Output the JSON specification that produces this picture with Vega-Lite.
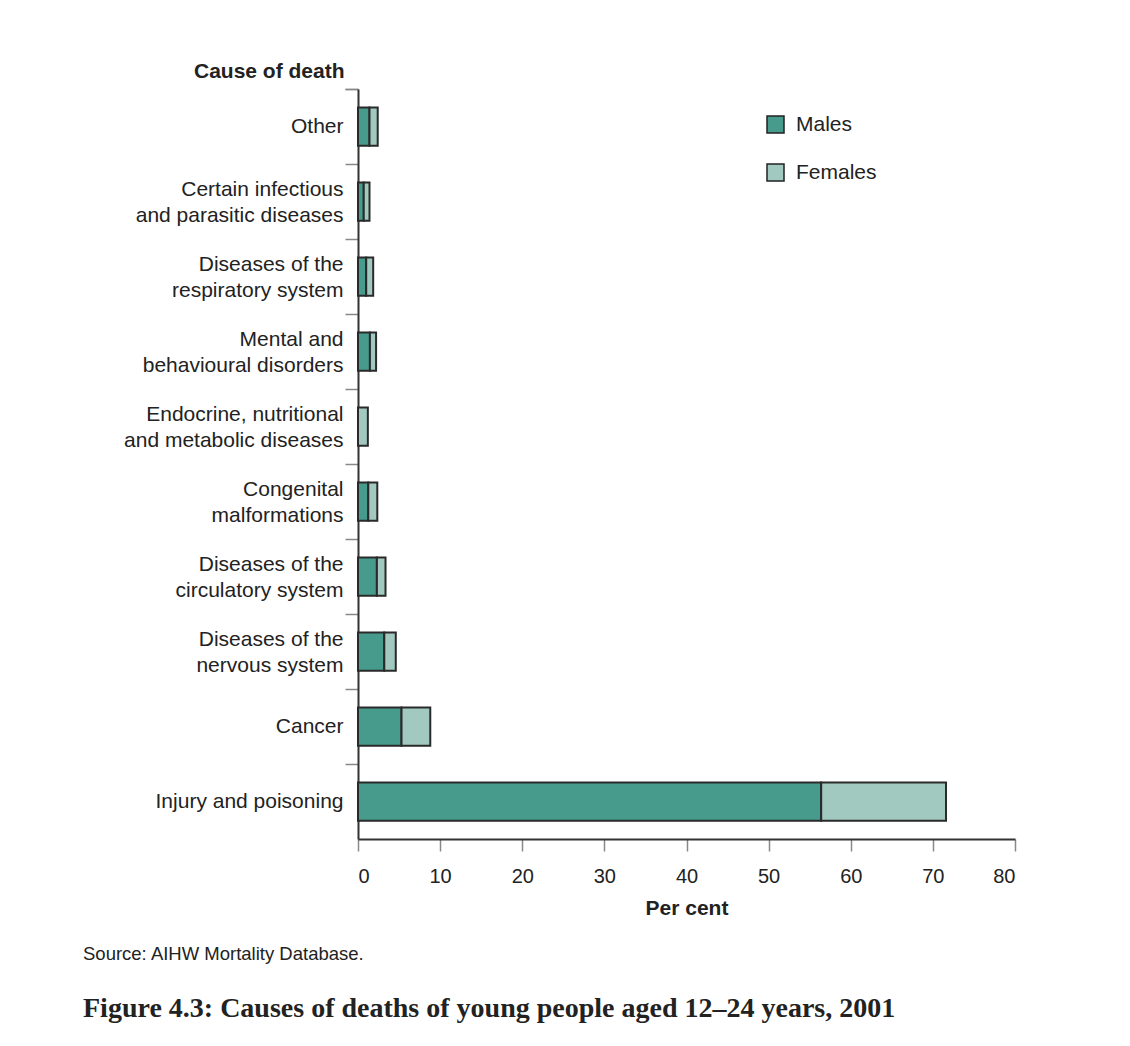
{
  "$schema": "https://vega.github.io/schema/vega-lite/v6.json",
  "autosize": "none",
  "width": 657,
  "height": 750,
  "padding": {"left": 358, "top": 89, "right": 115, "bottom": 207},
  "background": "white",
  "title": {
    "text": "Source: AIHW Mortality Database.",
    "subtitle": "Figure 4.3: Causes of deaths of young people aged 12–24 years, 2001",
    "orient": "bottom",
    "anchor": "start",
    "frame": "group",
    "dx": -275,
    "offset": 27,
    "font": "Liberation Sans",
    "fontSize": 18.5,
    "fontWeight": "normal",
    "color": "#222",
    "subtitleFont": "Liberation Serif",
    "subtitleFontSize": 28,
    "subtitleFontWeight": "bold",
    "subtitleColor": "#222",
    "subtitlePadding": 31
  },
  "data": {
    "values": [
      {"cause": "Other", "sex": "Males", "percent": 1.4},
      {"cause": "Other", "sex": "Females", "percent": 1.0},
      {"cause": "Certain infectious and parasitic diseases", "sex": "Males", "percent": 0.7},
      {"cause": "Certain infectious and parasitic diseases", "sex": "Females", "percent": 0.7},
      {"cause": "Diseases of the respiratory system", "sex": "Males", "percent": 1.0},
      {"cause": "Diseases of the respiratory system", "sex": "Females", "percent": 0.85},
      {"cause": "Mental and behavioural disorders", "sex": "Males", "percent": 1.45},
      {"cause": "Mental and behavioural disorders", "sex": "Females", "percent": 0.75},
      {"cause": "Endocrine, nutritional and metabolic diseases", "sex": "Males", "percent": 0},
      {"cause": "Endocrine, nutritional and metabolic diseases", "sex": "Females", "percent": 1.2},
      {"cause": "Congenital malformations", "sex": "Males", "percent": 1.25},
      {"cause": "Congenital malformations", "sex": "Females", "percent": 1.1},
      {"cause": "Diseases of the circulatory system", "sex": "Males", "percent": 2.3},
      {"cause": "Diseases of the circulatory system", "sex": "Females", "percent": 1.05},
      {"cause": "Diseases of the nervous system", "sex": "Males", "percent": 3.2},
      {"cause": "Diseases of the nervous system", "sex": "Females", "percent": 1.4},
      {"cause": "Cancer", "sex": "Males", "percent": 5.3},
      {"cause": "Cancer", "sex": "Females", "percent": 3.5},
      {"cause": "Injury and poisoning", "sex": "Males", "percent": 56.4},
      {"cause": "Injury and poisoning", "sex": "Females", "percent": 15.2}
    ]
  },
  "mark": {
    "type": "bar",
    "height": {"band": 0.51},
    "stroke": "#2a2a2a",
    "strokeWidth": 2
  },
  "encoding": {
    "y": {
      "field": "cause",
      "type": "nominal",
      "sort": null,
      "scale": {"paddingInner": 0, "paddingOuter": 0},
      "axis": {
        "title": "Cause of death",
        "titleAngle": 0,
        "titleAlign": "right",
        "titleBaseline": "alphabetic",
        "titleX": -14,
        "titleY": -12,
        "titleFont": "Liberation Sans",
        "titleFontSize": 21,
        "titleFontWeight": "bold",
        "titleColor": "#222",
        "bandPosition": 0,
        "tickExtra": true,
        "tickSize": 13,
        "tickColor": "#888",
        "tickWidth": 1.5,
        "domainColor": "#333",
        "domainWidth": 2,
        "labelPadding": 2,
        "labelFont": "Liberation Sans",
        "labelFontSize": 21,
        "labelColor": "#222",
        "labelLineHeight": 26,
        "labelLimit": 400,
        "labelOffset": {
          "condition": {"test": "datum.value == 'Other' || datum.value == 'Cancer' || datum.value == 'Injury and poisoning'", "value": 0},
          "value": -12
        },
        "labelExpr": "datum.label == 'Certain infectious and parasitic diseases' ? ['Certain infectious', 'and parasitic diseases'] : datum.label == 'Diseases of the respiratory system' ? ['Diseases of the', 'respiratory system'] : datum.label == 'Mental and behavioural disorders' ? ['Mental and', 'behavioural disorders'] : datum.label == 'Endocrine, nutritional and metabolic diseases' ? ['Endocrine, nutritional', 'and metabolic diseases'] : datum.label == 'Congenital malformations' ? ['Congenital', 'malformations'] : datum.label == 'Diseases of the circulatory system' ? ['Diseases of the', 'circulatory system'] : datum.label == 'Diseases of the nervous system' ? ['Diseases of the', 'nervous system'] : datum.label"
      }
    },
    "x": {
      "field": "percent",
      "type": "quantitative",
      "stack": "zero",
      "scale": {"domain": [0, 80], "nice": false},
      "axis": {
        "title": "Per cent",
        "values": [0, 10, 20, 30, 40, 50, 60, 70, 80],
        "grid": false,
        "tickSize": 12,
        "tickColor": "#888",
        "tickWidth": 1.5,
        "domainColor": "#333",
        "domainWidth": 2,
        "labelPadding": 15,
        "labelFont": "Liberation Sans",
        "labelFontSize": 20,
        "labelColor": "#222",
        "titleFont": "Liberation Sans",
        "titleFontSize": 21,
        "titleFontWeight": "bold",
        "titleColor": "#222",
        "titlePadding": 11
      }
    },
    "color": {
      "field": "sex",
      "type": "nominal",
      "scale": {"domain": ["Males", "Females"], "range": ["#479B8D", "#A2C9C0"]},
      "legend": {
        "title": null,
        "orient": "none",
        "legendX": 407,
        "legendY": 25,
        "symbolType": "square",
        "symbolSize": 289,
        "symbolStrokeColor": "#222",
        "symbolStrokeWidth": 1.5,
        "symbolOpacity": 1,
        "rowPadding": 25,
        "labelOffset": 10,
        "labelFont": "Liberation Sans",
        "labelFontSize": 21,
        "labelColor": "#222"
      }
    },
    "order": {"field": "sex", "sort": "descending"}
  },
  "config": {
    "view": {"stroke": null},
    "axis": {"grid": false}
  }
}
